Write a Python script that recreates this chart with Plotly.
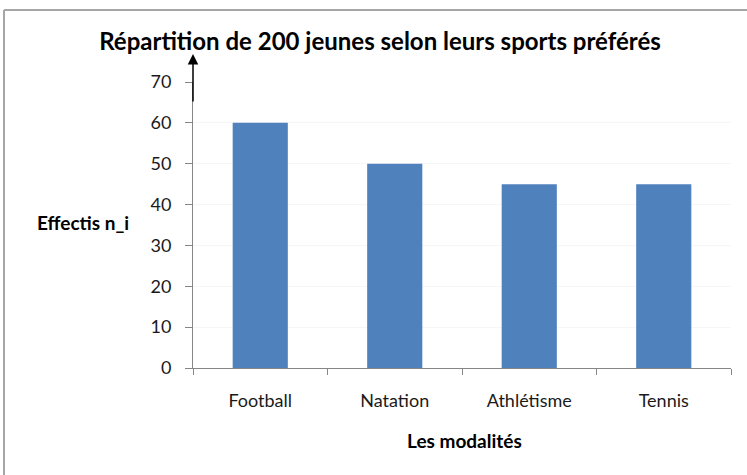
import plotly.graph_objects as go

categories = ["Football", "Natation", "Athlétisme", "Tennis"]
effectifs = [60, 50, 45, 45]
y_ticks = [0, 10, 20, 30, 40, 50, 60, 70]

title_text = "Répartition de 200 jeunes selon leurs sports préférés"
y_title = "Effectis n_i"
x_title = "Les modalités"

W, H = 747, 475
L, R, T, B = 193, 16, 82, 107
pw, ph = W - L - R, H - T - B

def px_x(x):
    return (x - L) / pw

def px_y(y):
    return (H - B - y) / ph

FONT = "Lato, 'Open Sans', sans-serif"

fig = go.Figure(
    go.Bar(
        x=categories,
        y=effectifs,
        marker=dict(color="#4F81BD", line=dict(width=0)),
        width=0.41,
    )
)

fig.update_layout(
    width=W,
    height=H,
    margin=dict(l=L, r=R, t=T, b=B),
    paper_bgcolor="white",
    plot_bgcolor="white",
    showlegend=False,
    font=dict(family=FONT, color="#1a1a1a"),
    title=dict(
        text="<b>" + title_text + "</b>",
        x=px_x(380),
        xref="paper",
        xanchor="center",
        y=1 - 42 / H,
        yref="container",
        yanchor="middle",
        font=dict(size=24, color="#000000", family=FONT),
    ),
    xaxis=dict(
        type="category",
        showline=True,
        linecolor="#868686",
        linewidth=1,
        ticks="outside",
        ticklen=6,
        tickcolor="#868686",
        tickson="boundaries",
        tickfont=dict(size=18, color="#1a1a1a"),
        ticklabelstandoff=16,
        showgrid=False,
        zeroline=False,
    ),
    yaxis=dict(
        range=[0, 70],
        tickvals=y_ticks,
        showline=True,
        linecolor="#868686",
        linewidth=1,
        ticks="outside",
        ticklen=7,
        tickcolor="#868686",
        tickfont=dict(size=18, color="#1a1a1a"),
        ticklabelstandoff=10,
        showgrid=True,
        gridcolor="#f6f6f6",
        zeroline=False,
    ),
    annotations=[
        dict(
            text="<b>" + y_title + "</b>",
            xref="paper", yref="paper",
            x=px_x(35), y=px_y(222),
            xanchor="left", yanchor="middle",
            showarrow=False,
            font=dict(size=19, color="#000000", family=FONT),
        ),
        dict(
            text="<b>" + x_title + "</b>",
            xref="paper", yref="paper",
            x=px_x(464), y=px_y(440),
            xanchor="center", yanchor="middle",
            showarrow=False,
            font=dict(size=19, color="#000000", family=FONT),
        ),
        dict(
            text="",
            xref="paper", yref="paper",
            x=0, y=px_y(54),
            ax=0, ay=49,
            axref="pixel", ayref="pixel",
            showarrow=True,
            arrowhead=2,
            arrowsize=1.4,
            arrowwidth=1.5,
            arrowcolor="#000000",
        ),
    ],
    shapes=[
        dict(type="line", xref="paper", yref="paper",
             x0=px_x(4), x1=px_x(W + 5), y0=px_y(10), y1=px_y(10),
             line=dict(color="#a6a6a6", width=2)),
        dict(type="line", xref="paper", yref="paper",
             x0=px_x(4), x1=px_x(4), y0=px_y(10), y1=px_y(H + 5),
             line=dict(color="#a6a6a6", width=2)),
    ],
)

fig.write_html(
    "out.html",
    config={"displayModeBar": False},
    post_script="document.body.style.margin='0';document.body.style.overflow='hidden';",
)
